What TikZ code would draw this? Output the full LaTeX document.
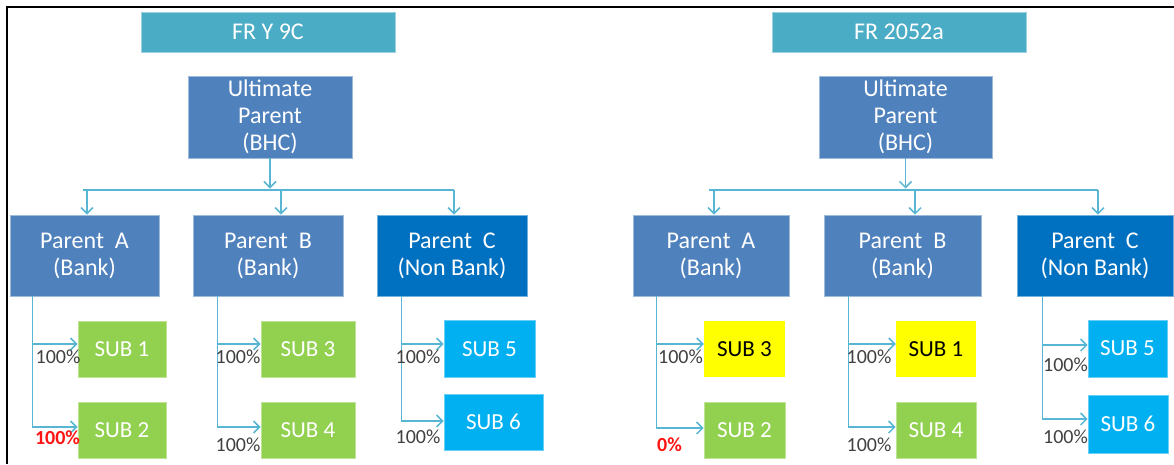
\documentclass[tikz,border=0pt]{standalone}
\usepackage{fontspec}
\setmainfont{Carlito}
\usepackage{tikz}
\usetikzlibrary{arrows.meta,positioning,calc}
\definecolor{titleteal}{RGB}{75, 172, 198}
\definecolor{bankblue}{RGB}{79, 129, 189}
\definecolor{nonbankblue}{RGB}{0, 112, 192}
\definecolor{subgreen}{RGB}{146, 208, 80}
\definecolor{subcyan}{RGB}{0, 176, 240}
\definecolor{subyellow}{RGB}{255, 255, 0}
\definecolor{linkblue}{RGB}{88, 182, 212}
\definecolor{pctgray}{RGB}{64, 64, 64}
\definecolor{pctred}{RGB}{255, 20, 20}

\begin{document}
\begin{tikzpicture}[x=1pt,y=-1pt,
    >={Straight Barb[length=6pt,width=12pt,line width=1.5pt]},
    box/.style={rectangle,inner sep=0pt,align=center,text=white,font=\fontsize{24}{27}\selectfont},
    titlebox/.style={box,fill=titleteal,draw=titleteal!55!white,line width=0.8pt,minimum height=40},
    bankbox/.style={box,fill=bankblue,draw=bankblue!55!white,line width=0.8pt,minimum height=81},
    nonbankbox/.style={box,fill=nonbankblue,draw=nonbankblue!55!white,line width=0.8pt,minimum height=81},
    subgreen/.style={box,fill=subgreen,draw=subgreen!60!white,line width=0.8pt,minimum height=56,font=\fontsize{23}{27}\selectfont},
    subcyan/.style={box,fill=subcyan,draw=subcyan!60!white,line width=0.8pt,minimum height=56,font=\fontsize{23}{27}\selectfont},
    subyellow/.style={box,fill=subyellow,text=black,minimum height=56,font=\fontsize{23}{27}\selectfont},
    link/.style={draw=linkblue,line width=1.6pt,->},
    wire/.style={draw=linkblue,line width=1.6pt},
    pct/.style={inner sep=0pt,text=pctgray,font=\fontsize{20}{24}\selectfont},
    pctbad/.style={pct,text=pctred,font=\fontsize{20}{24}\selectfont\bfseries}]
    \useasboundingbox (0,0) rectangle (1174,464);
    % frame
    \draw[line width=2.5pt] (7,464) -- (7,7) -- (1174,7);

    % ---------- FR Y 9C ----------
    \node[titlebox,minimum width=254] (t1) at (268,32) {FR Y 9C};
    \node[bankbox,minimum width=164,minimum height=82] (u1) at (270,117) {Ultimate\\Parent\\(BHC)};
    \node[bankbox,minimum width=149] (pa1) at (84.5,255.5) {Parent~~A\\(Bank)};
    \node[bankbox,minimum width=150] (pb1) at (268,255.5) {Parent~~B\\(Bank)};
    \node[nonbankbox,minimum width=150] (pc1) at (452,255.5) {Parent~~C\\(Non Bank)};
    \node[subgreen,minimum width=88] (s1) at (122,349) {SUB 1};
    \node[subgreen,minimum width=88] (s2) at (122,430) {SUB 2};
    \node[subgreen,minimum width=94] (s3) at (308,349) {SUB 3};
    \node[subgreen,minimum width=94] (s4) at (308,430) {SUB 4};
    \node[subcyan,minimum width=91,minimum height=57] (s5) at (489.5,349) {SUB 5};
    \node[subcyan,minimum width=99] (s6) at (493.5,422) {SUB 6};

    \coordinate (b1) at (270,190);
    \draw[link] (u1.south) -- ([yshift=1.5]b1);
    \draw[wire] ([xshift=-2]pa1.north |- b1) -- ([xshift=2]pc1.north |- b1);
    \draw[link] ([xshift=2.5]pa1.north |- b1) -- ([xshift=2.5]pa1.north);
    \draw[link] ([xshift=13]pb1.north |- b1) -- ([xshift=13]pb1.north);
    \draw[link] ([xshift=2]pc1.north |- b1) -- ([xshift=2]pc1.north);

    \draw[link] ([xshift=23]pa1.south west) |- ([yshift=5]s1.west);
    \draw[link] ([xshift=23]pa1.south west) |- ([yshift=3]s2.west);
    \draw[link] ([xshift=25]pb1.south west) |- ([yshift=5]s3.west);
    \draw[link] ([xshift=25]pb1.south west) |- ([yshift=3]s4.west);
    \draw[link] ([xshift=25]pc1.south west) |- ([yshift=5]s5.west);
    \draw[link] ([xshift=25]pc1.south west) |- ([yshift=1]s6.west);

    \node[pct] (l1) at (58,357) {100\%};
    \node[pctbad] (l2) at (57.5,438) {100\%};
    \node[pct] (l3) at (238,357) {100\%};
    \node[pct] (l4) at (238,445) {100\%};
    \node[pct] (l5) at (418,357) {100\%};
    \node[pct] (l6) at (418,437) {100\%};

    % ---------- FR 2052a ----------
    \node[titlebox,minimum width=254] (t2) at (899,32) {FR 2052a};
    \node[bankbox,minimum width=173,minimum height=82] (u2) at (905.5,117) {Ultimate\\Parent\\(BHC)};
    \node[bankbox,minimum width=156] (pa2) at (711,255.5) {Parent~~A\\(Bank)};
    \node[bankbox,minimum width=157] (pb2) at (902.5,255.5) {Parent~~B\\(Bank)};
    \node[nonbankbox,minimum width=156] (pc2) at (1095,255.5) {Parent~~C\\(Non Bank)};
    \node[subyellow,minimum width=81] (s7) at (744.5,349) {SUB 3};
    \node[subgreen,minimum width=81] (s8) at (744.5,430) {SUB 2};
    \node[subyellow,minimum width=80] (s9) at (936,349) {SUB 1};
    \node[subgreen,minimum width=80] (s10) at (936,430) {SUB 4};
    \node[subcyan,minimum width=79,minimum height=57] (s11) at (1127.5,348.5) {SUB 5};
    \node[subcyan,minimum width=80,minimum height=58] (s12) at (1128,424) {SUB 6};

    \coordinate (b2) at (905.5,190);
    \draw[link] (u2.south) -- ([yshift=1.5]b2);
    \draw[wire] ([xshift=-2]pa2.north |- b2) -- ([xshift=3]pc2.north |- b2);
    \draw[link] ([xshift=3]pa2.north |- b2) -- ([xshift=3]pa2.north);
    \draw[link] ([xshift=12.5]pb2.north |- b2) -- ([xshift=12.5]pb2.north);
    \draw[link] ([xshift=3]pc2.north |- b2) -- ([xshift=3]pc2.north);

    \draw[link] ([xshift=24]pa2.south west) |- ([yshift=5]s7.west);
    \draw[link] ([xshift=24]pa2.south west) |- ([yshift=2]s8.west);
    \draw[link] ([xshift=25]pb2.south west) |- ([yshift=5]s9.west);
    \draw[link] ([xshift=25]pb2.south west) |- ([yshift=3]s10.west);
    \draw[link] ([xshift=26]pc2.south west) |- ([yshift=3.5]s11.west);
    \draw[link] ([xshift=26]pc2.south west) |- ([yshift=5]s12.west);

    \node[pct] (l7) at (680.5,357) {100\%};
    \node[pctbad] (l8) at (669.5,445) {0\%};
    \node[pct] (l9) at (869,357) {100\%};
    \node[pct] (l10) at (869,445) {100\%};
    \node[pct] (l11) at (1065.5,365) {100\%};
    \node[pct] (l12) at (1065.5,437) {100\%};
\end{tikzpicture}
\end{document}
